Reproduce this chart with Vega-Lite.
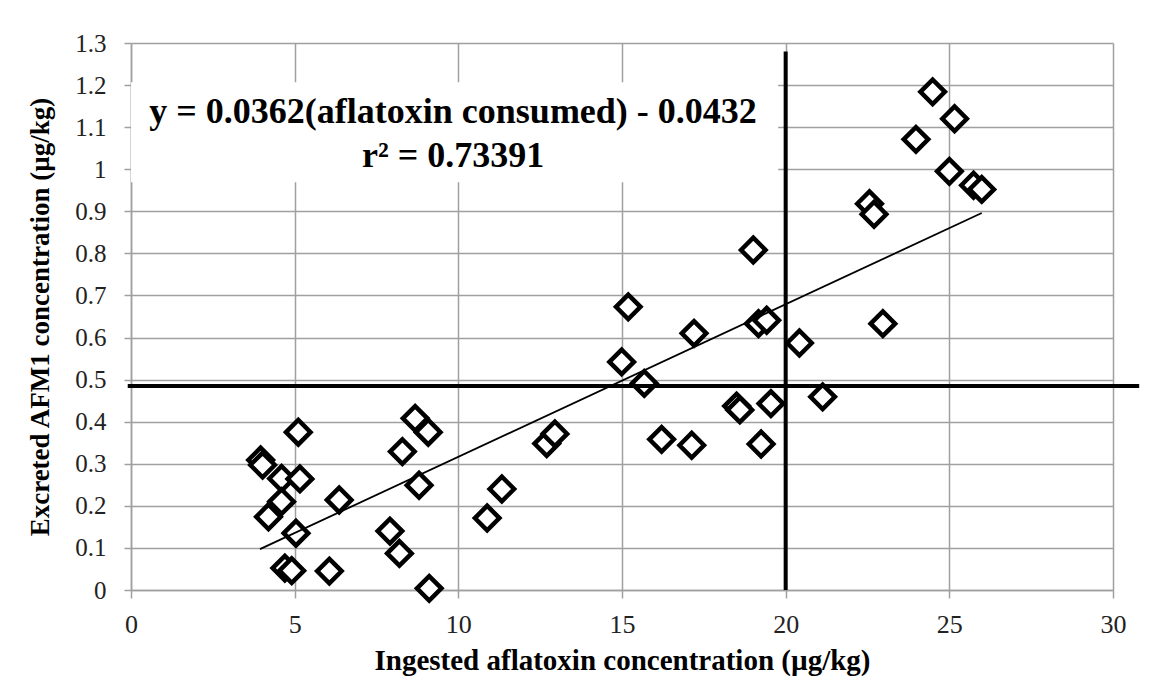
{
  "$schema": "https://vega.github.io/schema/vega-lite/v6.json",
  "width": 982,
  "height": 547,
  "autosize": {"type": "none"},
  "padding": {"left": 131, "top": 43, "right": 40, "bottom": 93},
  "background": "white",
  "config": {"view": {"stroke": null}, "font": "Liberation Serif"},
  "layer": [
    {
      "data": {"values": [
        {"ingested": 3.96, "excreted": 0.309},
        {"ingested": 4.02, "excreted": 0.297},
        {"ingested": 4.20, "excreted": 0.174},
        {"ingested": 4.60, "excreted": 0.265},
        {"ingested": 4.60, "excreted": 0.210},
        {"ingested": 4.70, "excreted": 0.052},
        {"ingested": 4.91, "excreted": 0.046},
        {"ingested": 5.04, "excreted": 0.135},
        {"ingested": 5.11, "excreted": 0.375},
        {"ingested": 5.16, "excreted": 0.264},
        {"ingested": 6.06, "excreted": 0.045},
        {"ingested": 6.36, "excreted": 0.214},
        {"ingested": 7.91, "excreted": 0.140},
        {"ingested": 8.20, "excreted": 0.087},
        {"ingested": 8.29, "excreted": 0.329},
        {"ingested": 8.68, "excreted": 0.408},
        {"ingested": 8.80, "excreted": 0.249},
        {"ingested": 9.08, "excreted": 0.375},
        {"ingested": 9.11, "excreted": 0.004},
        {"ingested": 10.88, "excreted": 0.171},
        {"ingested": 11.33, "excreted": 0.240},
        {"ingested": 12.70, "excreted": 0.348},
        {"ingested": 12.95, "excreted": 0.371},
        {"ingested": 14.99, "excreted": 0.542},
        {"ingested": 15.19, "excreted": 0.673},
        {"ingested": 15.68, "excreted": 0.491},
        {"ingested": 16.21, "excreted": 0.358},
        {"ingested": 17.13, "excreted": 0.344},
        {"ingested": 17.20, "excreted": 0.610},
        {"ingested": 18.50, "excreted": 0.437},
        {"ingested": 18.60, "excreted": 0.428},
        {"ingested": 19.01, "excreted": 0.808},
        {"ingested": 19.17, "excreted": 0.633},
        {"ingested": 19.25, "excreted": 0.347},
        {"ingested": 19.42, "excreted": 0.641},
        {"ingested": 19.55, "excreted": 0.443},
        {"ingested": 20.42, "excreted": 0.587},
        {"ingested": 21.13, "excreted": 0.459},
        {"ingested": 22.56, "excreted": 0.918},
        {"ingested": 22.70, "excreted": 0.893},
        {"ingested": 22.97, "excreted": 0.633},
        {"ingested": 23.98, "excreted": 1.071},
        {"ingested": 24.49, "excreted": 1.184},
        {"ingested": 25.00, "excreted": 0.995},
        {"ingested": 25.16, "excreted": 1.120},
        {"ingested": 25.74, "excreted": 0.962},
        {"ingested": 25.99, "excreted": 0.952}
      ]},
      "mark": {"type": "point", "shape": "diamond", "size": 600, "strokeWidth": 4.5, "stroke": "black", "fill": "white", "filled": false, "opacity": 1, "fillOpacity": 1},
      "encoding": {
        "x": {
          "field": "ingested", "type": "quantitative",
          "scale": {"domain": [0, 30], "nice": false, "zero": true},
          "axis": {
            "title": "Ingested aflatoxin concentration (µg/kg)",
            "values": [0, 5, 10, 15, 20, 25, 30],
            "labelFlush": false,
            "grid": true, "gridColor": "#a0a0a0", "gridWidth": 1.5,
            "domainColor": "#a0a0a0", "domainWidth": 1.5,
            "tickColor": "#a0a0a0", "tickSize": 8, "tickWidth": 1.5,
            "labelFont": "Liberation Serif", "labelFontSize": 26, "labelColor": "#222222", "labelPadding": 13,
            "titleFont": "Liberation Serif", "titleFontSize": 29, "titleFontWeight": "bold", "titleColor": "black", "titlePadding": 9
          }
        },
        "y": {
          "field": "excreted", "type": "quantitative",
          "scale": {"domain": [0, 1.3], "nice": false},
          "axis": {
            "title": "Excreted AFM1 concentration (µg/kg)",
            "values": [0, 0.1, 0.2, 0.3, 0.4, 0.5, 0.6, 0.7, 0.8, 0.9, 1, 1.1, 1.2, 1.3],
            "format": ".1~f",
            "labelFlush": false,
            "grid": true, "gridColor": "#a0a0a0", "gridWidth": 1.5,
            "domainColor": "#a0a0a0", "domainWidth": 1.5,
            "tickColor": "#a0a0a0", "tickSize": 7, "tickWidth": 1.5,
            "labelFont": "Liberation Serif", "labelFontSize": 25, "labelColor": "#222222", "labelPadding": 18,
            "titleFont": "Liberation Serif", "titleFontSize": 27, "titleFontWeight": "bold", "titleColor": "black", "titlePadding": 20
          }
        }
      }
    },
    {
      "data": {"values": [{"x0": 0, "x1": 19.77, "y0": 0.969, "y1": 1.207}]},
      "mark": {"type": "rect", "fill": "white", "stroke": null},
      "encoding": {
        "x": {"field": "x0", "type": "quantitative"},
        "x2": {"field": "x1"},
        "y": {"field": "y0", "type": "quantitative"},
        "y2": {"field": "y1"}
      }
    },
    {
      "data": {"values": [{"ingested": 3.94, "excreted": 0.097}, {"ingested": 25.99, "excreted": 0.896}]},
      "mark": {"type": "line", "color": "black", "strokeWidth": 1.8},
      "encoding": {
        "x": {"field": "ingested", "type": "quantitative"},
        "y": {"field": "excreted", "type": "quantitative"}
      }
    },
    {
      "data": {"values": [{"xa": 20, "ya": 0, "yb": 1.28}]},
      "mark": {"type": "rule", "color": "black", "strokeWidth": 4},
      "encoding": {
        "x": {"field": "xa", "type": "quantitative"},
        "y": {"field": "ya", "type": "quantitative"},
        "y2": {"field": "yb"}
      }
    },
    {
      "data": {"values": [{"xa": -0.1, "xb": 30.8, "ya": 0.485}]},
      "mark": {"type": "rule", "color": "black", "strokeWidth": 4},
      "encoding": {
        "x": {"field": "xa", "type": "quantitative"},
        "x2": {"field": "xb"},
        "y": {"field": "ya", "type": "quantitative"}
      }
    },
    {
      "data": {"values": [
        {"label": "y = 0.0362(aflatoxin consumed) - 0.0432", "tx": 9.84, "ty": 1.109},
        {"label": "r² = 0.73391", "tx": 9.84, "ty": 1.0055}
      ]},
      "mark": {"type": "text", "font": "Liberation Serif", "fontSize": 36, "fontWeight": "bold", "color": "black", "align": "center", "baseline": "alphabetic"},
      "encoding": {
        "x": {"field": "tx", "type": "quantitative"},
        "y": {"field": "ty", "type": "quantitative"},
        "text": {"field": "label"}
      }
    }
  ]
}
